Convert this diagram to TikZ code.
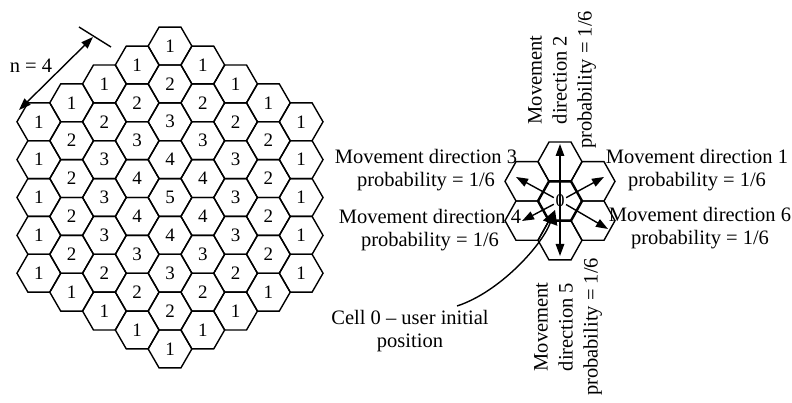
\documentclass[tikz,border=0pt]{standalone}
\usepackage{fontspec}
\setmainfont{Liberation Serif}
\usetikzlibrary{arrows.meta}

\tikzset{
  hexline/.style={line width=1.4pt},
  lbl/.style={font=\fontsize{20.5}{23}\selectfont, align=center, inner sep=0pt},
  vlbl/.style={font=\fontsize{20.5}{25}\selectfont, align=center, inner sep=0pt, rotate=90},
  num/.style={font=\fontsize{19}{19}\selectfont, inner sep=0pt},
  movearrow/.style={line width=1.4pt, -{Triangle[length=12pt,width=8.5pt]}},
  % one cell of the small seven-cell cluster, line width as argument
  clhex/.pic={\draw[line width=#1] (-22,0) -- (-11,-19.65) -- (11,-19.65) -- (22,0)
                 -- (11,19.65) -- (-11,19.65) -- cycle;}
}

\begin{document}
\begin{tikzpicture}[x=1pt,y=-1pt]
\useasboundingbox (0,0) rectangle (792,403);

% ---------- hexagonal cell layout, radius 4 around the centre cell ----------
\foreach \q in {-4,...,4}{
  \foreach \r in {-4,...,4}{
    \pgfmathtruncatemacro\s{-\q-\r}
    \pgfmathtruncatemacro\d{max(abs(\q),abs(\r),abs(\s))}
    \ifnum\d<5
      \pgfmathsetmacro\cx{170+32.79*\q}
      \pgfmathsetmacro\cy{197.5+37.86*(\r+\q/2)}
      \pgfmathtruncatemacro\v{5-\d}
      \draw[hexline] (\cx,\cy) +(0:21.86) -- +(60:21.86) -- +(120:21.86)
        -- +(180:21.86) -- +(240:21.86) -- +(300:21.86) -- cycle;
      \node[num] (g\q/\r) at (\cx,\cy) {\v};
    \fi
  }
}

% ---------- size marker n = 4 ----------
\coordinate (na) at (19,110);
\coordinate (nb) at (93,37);
\coordinate (ta) at (79,27);
\coordinate (tb) at (111,47);
\draw[line width=1.4pt, {Triangle[length=12pt,width=8.5pt]}-{Triangle[length=12pt,width=8.5pt]}] (na) -- (nb);
\draw[line width=1.4pt] (ta) -- (tb);
\node[lbl] (nlabel) at (31,66) {n = 4};

% ---------- seven-cell cluster ----------
\coordinate (c0) at (560,201);
\coordinate (c1) at (593,181.35);
\coordinate (c2) at (560,161.7);
\coordinate (c3) at (527,181.35);
\coordinate (c4) at (527,220.65);
\coordinate (c5) at (560,240.3);
\coordinate (c6) at (593,220.65);
\foreach \c in {c1,c2,c3,c4,c5,c6} \pic at (\c) {clhex=1.4pt};
\pic at (c0) {clhex=2.4pt};

% arrow end points
\coordinate (a1) at (604,177);
\coordinate (a2) at (560,144);
\coordinate (a3) at (516,177);
\coordinate (a4) at (522,221);
\coordinate (a5) at (560,256);
\coordinate (a6) at (608,229);
\draw[movearrow] (c0) -- (a2);
\draw[movearrow] (c0) -- (a5);
\foreach \a in {a1,a3,a4,a6} \draw[movearrow, shorten <=7pt] (c0) -- (\a);
\node[num, font=\fontsize{18}{18}\selectfont] (zero) at (c0) {0};

% ---------- labels ----------
\node[lbl] (t1) at (697,170) {Movement direction 1\\probability = 1/6};
\node[lbl] (t3) at (426,170) {Movement direction 3\\probability = 1/6};
\node[lbl] (t4) at (430,230) {Movement direction 4\\probability = 1/6};
\node[lbl] (t6) at (700,228) {Movement direction 6\\probability = 1/6};
\node[vlbl] (t2) at (562,80) {Movement\\direction 2\\probability = 1/6};
\node[vlbl] (t5) at (568,327) {Movement\\direction 5\\probability = 1/6};
\node[lbl] (cellnote) at (410,331) {Cell 0 -- user initial\\position};

% pointer to the initial cell
\coordinate (cs) at (457,306);
\coordinate (ce) at (555,210);
\draw[line width=1.4pt, -{Triangle[length=14pt,width=15pt]}]
  (cs) .. controls (500,292) and (542,245) .. (ce);
\end{tikzpicture}
\end{document}
